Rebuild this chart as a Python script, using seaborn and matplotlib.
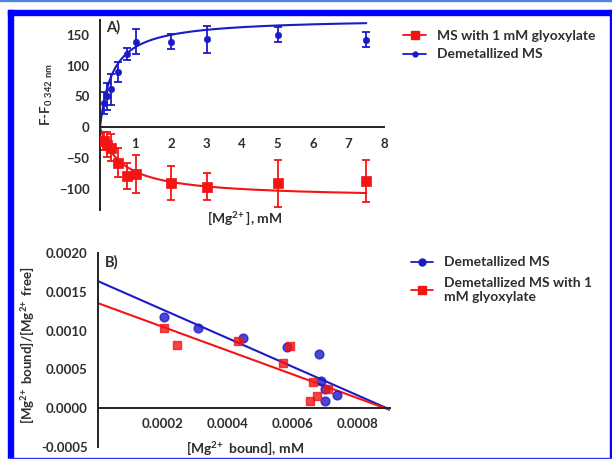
import matplotlib
matplotlib.use("Agg")
import matplotlib.pyplot as plt
import numpy as np
import pandas as pd
import seaborn as sns
from matplotlib.lines import Line2D
from matplotlib.patches import Rectangle

# panel A: titration data (mean +/- error)
mg_conc = [0.1, 0.2, 0.3, 0.5, 0.75, 1, 2, 3, 5, 7.5]
demet_f = [40, 50, 62, 90, 119, 139, 139, 143, 150, 142]
demet_err = [18, 22, 25, 16, 10, 20, 12, 22, 12, 12]
glyox_f = [-22, -28, -33, -57, -79, -76, -90, -96, -91, -87]
glyox_err = [15, 20, 22, 24, 21, 31, 28, 22, 38, 34]
# hyperbolic fit parameters (Bmax, Kd) as drawn in the figure
demet_fit = (177, 0.36)
glyox_fit = (-115, 0.60)

# panel B: Scatchard data
demet_bound = [0.000202, 0.000307, 0.000447, 0.000581, 0.000681, 0.000688, 0.000701, 0.000737, 0.000701]
demet_ratio = [0.00118, 0.00103, 0.00091, 0.00079, 0.000697, 0.000349, 0.000240, 0.000162, 0.000096]
glyox_bound = [0.000202, 0.000243, 0.000430, 0.000571, 0.000591, 0.000663, 0.000709, 0.000676, 0.000653]
glyox_ratio = [0.00103, 0.00082, 0.00087, 0.00058, 0.00080, 0.000335, 0.000248, 0.000153, 0.000096]

blue = "#1a1ac8"
red = "#f41414"
txt = "#2e2e2e"
mg = "Mg$^{2\\!+}$"

sns.set_style("white")
plt.rcParams["font.family"] = ["Lato", "DejaVu Sans"]
plt.rcParams["font.weight"] = "bold"
plt.rcParams["mathtext.default"] = "regular"
plt.rcParams["axes.labelweight"] = "bold"

fig = plt.figure(figsize=(6.12, 4.59), dpi=100)
fig.patch.set_facecolor("white")

# blue frame around the figure
fig.patches.append(Rectangle((0, 0.9978), 1, 0.0022, transform=fig.transFigure,
                             color="#4a86d8", zorder=0))
fig.patches.append(Rectangle((8 / 612, 0), 5 / 612, 1 - 10 / 459, transform=fig.transFigure,
                             color="#0000ff", zorder=0))
fig.patches.append(Rectangle((8 / 612, 1 - 15 / 459), 604 / 612, 5 / 459, transform=fig.transFigure,
                             color="#0000ff", zorder=0))
fig.patches.append(Rectangle((610 / 612, 0), 2 / 612, 1 - 10 / 459, transform=fig.transFigure,
                             color="#0000ff", zorder=0))
fig.patches.append(Rectangle((8 / 612, 0), 604 / 612, 1.5 / 459, transform=fig.transFigure,
                             color="#3030ff", zorder=0))


def style_axes(ax):
    ax.set_facecolor("none")
    for s in ["top", "right"]:
        ax.spines[s].set_visible(False)
    ax.spines["bottom"].set_position(("data", 0))
    for s in ["left", "bottom"]:
        ax.spines[s].set_color("#222222")
        ax.spines[s].set_linewidth(1.4)
    ax.tick_params(direction="out", length=4, width=1.2, color="#222222",
                   labelsize=9.5, labelcolor=txt)
    for lab in ax.get_xticklabels() + ax.get_yticklabels():
        lab.set_fontweight("bold")


# ---------- panel A ----------
axA = fig.add_axes([100 / 612, 1 - 210 / 459, 284 / 612, 190 / 459])
xs = np.linspace(0, 7.5, 300)
curves = pd.DataFrame({
    "x": np.concatenate([xs, xs]),
    "y": np.concatenate([demet_fit[0] * xs / (demet_fit[1] + xs),
                         glyox_fit[0] * xs / (glyox_fit[1] + xs)]),
    "set": ["demet"] * len(xs) + ["glyox"] * len(xs),
})
sns.lineplot(data=curves, x="x", y="y", hue="set", palette={"demet": blue, "glyox": red},
             legend=False, lw=1.5, ax=axA)
axA.errorbar(mg_conc, demet_f, yerr=demet_err, fmt="none", ecolor=blue, elinewidth=1.3,
             capsize=3, capthick=1.3)
axA.errorbar(mg_conc, glyox_f, yerr=glyox_err, fmt="none", ecolor=red, elinewidth=1.3,
             capsize=3, capthick=1.3)
sns.scatterplot(x=mg_conc, y=demet_f, color=blue, marker="o", s=22, edgecolor=blue, ax=axA, zorder=3)
sns.scatterplot(x=mg_conc, y=glyox_f, color=red, marker="s", s=42, edgecolor=red, ax=axA, zorder=3)
axA.set_xlim(0, 8)
axA.set_ylim(-134, 174)
axA.set_xticks(range(1, 9))
axA.set_yticks([-100, -50, 0, 50, 100, 150])
style_axes(axA)
axA.set_xlabel("")
axA.set_ylabel("")
fig.text(245 / 612, 1 - 218 / 459, f"[{mg}], mM", ha="center", va="center",
         fontsize=10, fontweight="bold", color=txt)
fig.text(47 / 612, 1 - 95 / 459, "F-F$_{0\\ 342\\ nm}$", ha="center", va="center",
         rotation=90, fontsize=9.5, fontweight="bold", color=txt)
axA.text(0.02, 0.94, "A)", transform=axA.transAxes, fontsize=10.5, fontweight="bold", color=txt)

handlesA = [
    Line2D([], [], color=red, marker="s", markersize=6, lw=1.3),
    Line2D([], [], color=blue, marker="o", markersize=3.5, lw=1.3),
]
fig.legend(handlesA, ["MS with 1 mM glyoxylate", "Demetallized MS"],
           loc="upper left", bbox_to_anchor=(391 / 612, 1 - 17 / 459), frameon=False,
           handlelength=1.6, handletextpad=0.8, labelspacing=0.5,
           labelcolor=txt, prop={"weight": "bold", "size": 10})

# ---------- panel B ----------
axB = fig.add_axes([98 / 612, 1 - 446.7 / 459, 292 / 612, 193.4 / 459])
axB.set_xlim(0, 0.0009)
sns.regplot(x=demet_bound, y=demet_ratio, ci=None, truncate=False, ax=axB, color=blue,
            scatter_kws={"s": 40, "zorder": 3}, line_kws={"lw": 1.5})
sns.regplot(x=glyox_bound, y=glyox_ratio, ci=None, truncate=False, ax=axB, color=red,
            marker="s", scatter_kws={"s": 40, "zorder": 3}, line_kws={"lw": 1.5})
axB.set_xlim(0, 0.0009)
axB.set_ylim(-0.0005, 0.0020)
axB.set_xticks([0.0002, 0.0004, 0.0006, 0.0008])
axB.set_xticklabels(["0.0002", "0.0004", "0.0006", "0.0008"])
axB.set_yticks([-0.0005, 0.0, 0.0005, 0.0010, 0.0015, 0.0020])
axB.set_yticklabels(["-0.0005", "0.0000", "0.0005", "0.0010", "0.0015", "0.0020"])
style_axes(axB)
axB.set_xlabel("")
axB.set_ylabel("")
fig.text(245 / 612, 1 - 448 / 459, f"[{mg} bound], mM", ha="center", va="center",
         fontsize=10, fontweight="bold", color=txt)
fig.text(27 / 612, 1 - 345 / 459, f"[{mg} bound]/[{mg} free]", ha="center", va="center",
         rotation=90, fontsize=9.5, fontweight="bold", color=txt)
axB.text(0.025, 0.93, "B)", transform=axB.transAxes, fontsize=10.5, fontweight="bold", color=txt)

handlesB = [
    Line2D([], [], color=blue, marker="o", markersize=5, lw=1.3),
    Line2D([], [], color=red, marker="s", markersize=6, lw=1.3),
]
fig.legend(handlesB, ["Demetallized MS", "Demetallized MS with 1\nmM glyoxylate"],
           loc="upper left", bbox_to_anchor=(398 / 612, 1 - 244 / 459), frameon=False,
           handlelength=1.6, handletextpad=0.8, labelspacing=0.6,
           labelcolor=txt, prop={"weight": "bold", "size": 10})

fig.savefig("out.png", dpi=100)
